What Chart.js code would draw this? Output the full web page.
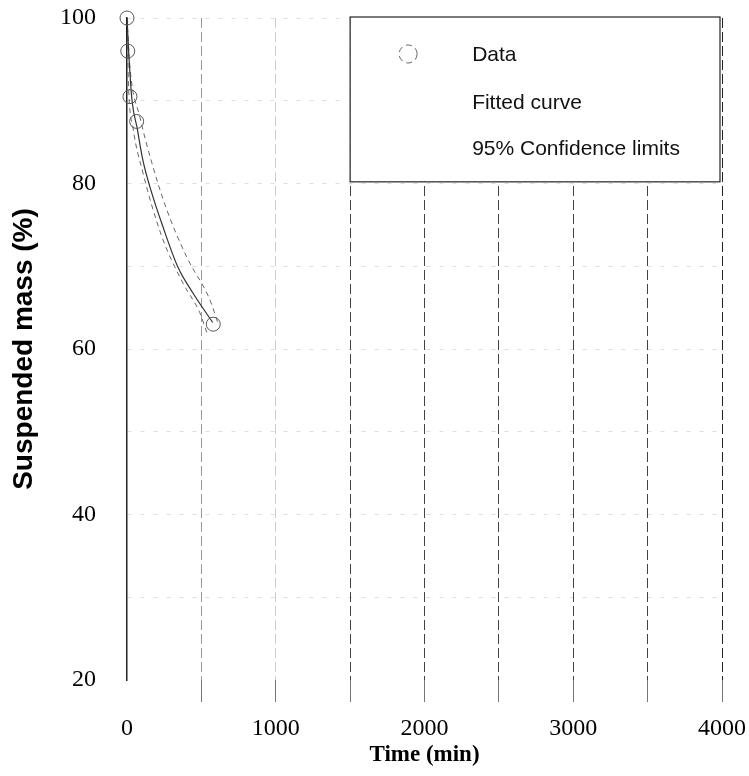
<!DOCTYPE html>
<html lang="en">
<head>
<meta charset="UTF-8"/>
<title>Suspended mass vs time</title>
<script src="https://cdn.jsdelivr.net/npm/chart.js@4/dist/chart.umd.min.js"></script>
<style>
  *{box-sizing:border-box;margin:0;padding:0}
  body{background:#fff;width:749px;height:776px;overflow:hidden}
  .wrap{position:relative;width:749px;height:776px}
</style>
</head>
<body>
<div class="wrap"><canvas id="chart" width="749" height="776"></canvas></div>

<script>
// ── Data ────────────────────────────────────────────────────────────────────
const dataX  = [0, 5, 20, 65, 580];
const dataY  = [100, 96, 90.5, 87.5, 63];

const fitX   = [0, 13, 34, 67, 107, 154, 241, 342, 442, 576];
const fitY   = [100, 95.3, 90, 86.8, 82.8, 79.6, 74.8, 69.9, 66.8, 63.2];

const upperX = [0, 20, 87, 167, 268, 402, 556, 610];
const upperY = [100, 94, 88, 82.5, 76.8, 71.1, 66, 63.2];

const lowerX = [0, 10, 40, 107, 234, 375, 489, 536];
const lowerY = [100, 92, 86.8, 81.3, 73.6, 68, 64.4, 62];

const xTicks = [0, 1000, 2000, 3000, 4000];
const yTicks = [20, 40, 60, 80, 100];

const legendLabels = ["Data", "Fitted curve", "95% Confidence limits"];

const pts = (xs, ys) => xs.map((x, i) => ({ x, y: ys[i] }));

// ── Legend box drawn inside the plot, top right ────────────────────────────
const boxLegend = {
  id: "boxLegend",
  afterDraw(chart) {
    const { ctx, scales: { x, y } } = chart;
    const left = x.getPixelForValue(1500);
    const right = x.getPixelForValue(4000) - 2;
    const top = y.getPixelForValue(100) - 1;
    const bottom = y.getPixelForValue(80.2);
    ctx.save();
    ctx.fillStyle = "#fff";
    ctx.fillRect(left, top, right - left, bottom - top);
    ctx.strokeStyle = "#222";
    ctx.lineWidth = 1.2;
    ctx.strokeRect(left, top, right - left, bottom - top);

    // symbol for Data
    ctx.strokeStyle = "#666";
    ctx.lineWidth = 1;
    ctx.setLineDash([6, 4]);
    ctx.beginPath();
    ctx.arc(left + 58, top + 37, 9, 0, Math.PI * 2);
    ctx.stroke();
    ctx.setLineDash([]);

    ctx.fillStyle = "#111";
    ctx.font = "21px 'Liberation Sans', Arial, sans-serif";
    ctx.textBaseline = "alphabetic";
    const rows = [top + 44, top + 92, top + 138];
    legendLabels.forEach((t, i) => ctx.fillText(t, left + 122, rows[i]));
    ctx.restore();
  }
};

new Chart(document.getElementById("chart"), {
  type: "scatter",
  data: {
    datasets: [
      {
        label: legendLabels[0],
        data: pts(dataX, dataY),
        pointStyle: "circle",
        pointRadius: 7,
        pointBorderWidth: 1,
        pointBorderColor: "#555",
        pointBackgroundColor: "transparent",
        showLine: false,
        clip: false,
      },
      {
        label: legendLabels[1],
        data: pts(fitX, fitY),
        showLine: true,
        pointRadius: 0,
        borderColor: "#333",
        borderWidth: 1.2,
        cubicInterpolationMode: "monotone",
      },
      {
        label: legendLabels[2],
        data: pts(upperX, upperY),
        showLine: true,
        pointRadius: 0,
        borderColor: "#666",
        borderWidth: 1,
        borderDash: [5, 4],
        cubicInterpolationMode: "monotone",
      },
      {
        label: legendLabels[2],
        data: pts(lowerX, lowerY),
        showLine: true,
        pointRadius: 0,
        borderColor: "#666",
        borderWidth: 1,
        borderDash: [5, 4],
        cubicInterpolationMode: "monotone",
      },
    ]
  },
  options: {
    responsive: false,
    animation: false,
    layout: { padding: { left: 0, right: 27, top: 18, bottom: 0 } },
    plugins: { legend: { display: false }, tooltip: { enabled: false } },
    scales: {
      x: {
        type: "linear",
        min: 0,
        max: 4000,
        afterFit: s => { s.height = 96; s.paddingLeft = 0; s.paddingRight = 0; },
        ticks: {
          stepSize: 500,
          padding: 12,
          color: "#000",
          font: { family: "'Liberation Serif', 'Times New Roman', serif", size: 24 },
          callback: v => xTicks.includes(v) ? String(v) : "",
        },
        grid: {
          drawTicks: true,
          tickLength: 22,
          lineWidth: 1,
          color: c => {
            const v = c.tick && c.tick.value;
            if (v === 0) return "transparent";
            if (v === 1000) return "#ccc";
            if (v === 500) return "#999";
            if (v === 4000) return "#222";
            return "#444";
          },
          tickColor: c => (c.tick && c.tick.value === 0) ? "transparent" : "#777",
        },
        border: { display: false, dash: [10, 4] },
        title: {
          display: true,
          text: "Time (min)",
          color: "#000",
          font: { family: "'Liberation Serif', 'Times New Roman', serif", size: 23, weight: "bold" },
          padding: { top: 0, bottom: 7 },
        },
      },
      y: {
        min: 20,
        max: 100,
        afterFit: s => { s.width = 127; s.paddingTop = 0; s.paddingBottom = 0; },
        ticks: {
          stepSize: 10,
          padding: 31,
          color: "#000",
          font: { family: "'Liberation Serif', 'Times New Roman', serif", size: 24 },
          callback: v => yTicks.includes(v) ? String(v) : "",
        },
        grid: {
          drawTicks: false,
          lineWidth: 1,
          color: c => (c.tick && c.tick.value === 20) ? "transparent" : "rgba(0,0,0,0.13)",
        },
        border: { display: true, color: "#222", width: 1.5, dash: [4, 9] },
        title: {
          display: true,
          text: "Suspended mass (%)",
          color: "#000",
          font: { family: "'Liberation Sans', Arial, sans-serif", size: 28, weight: "bold" },
          padding: { top: 7, bottom: 0 },
        },
      }
    }
  },
  plugins: [boxLegend]
});
</script>
</body>
</html>
